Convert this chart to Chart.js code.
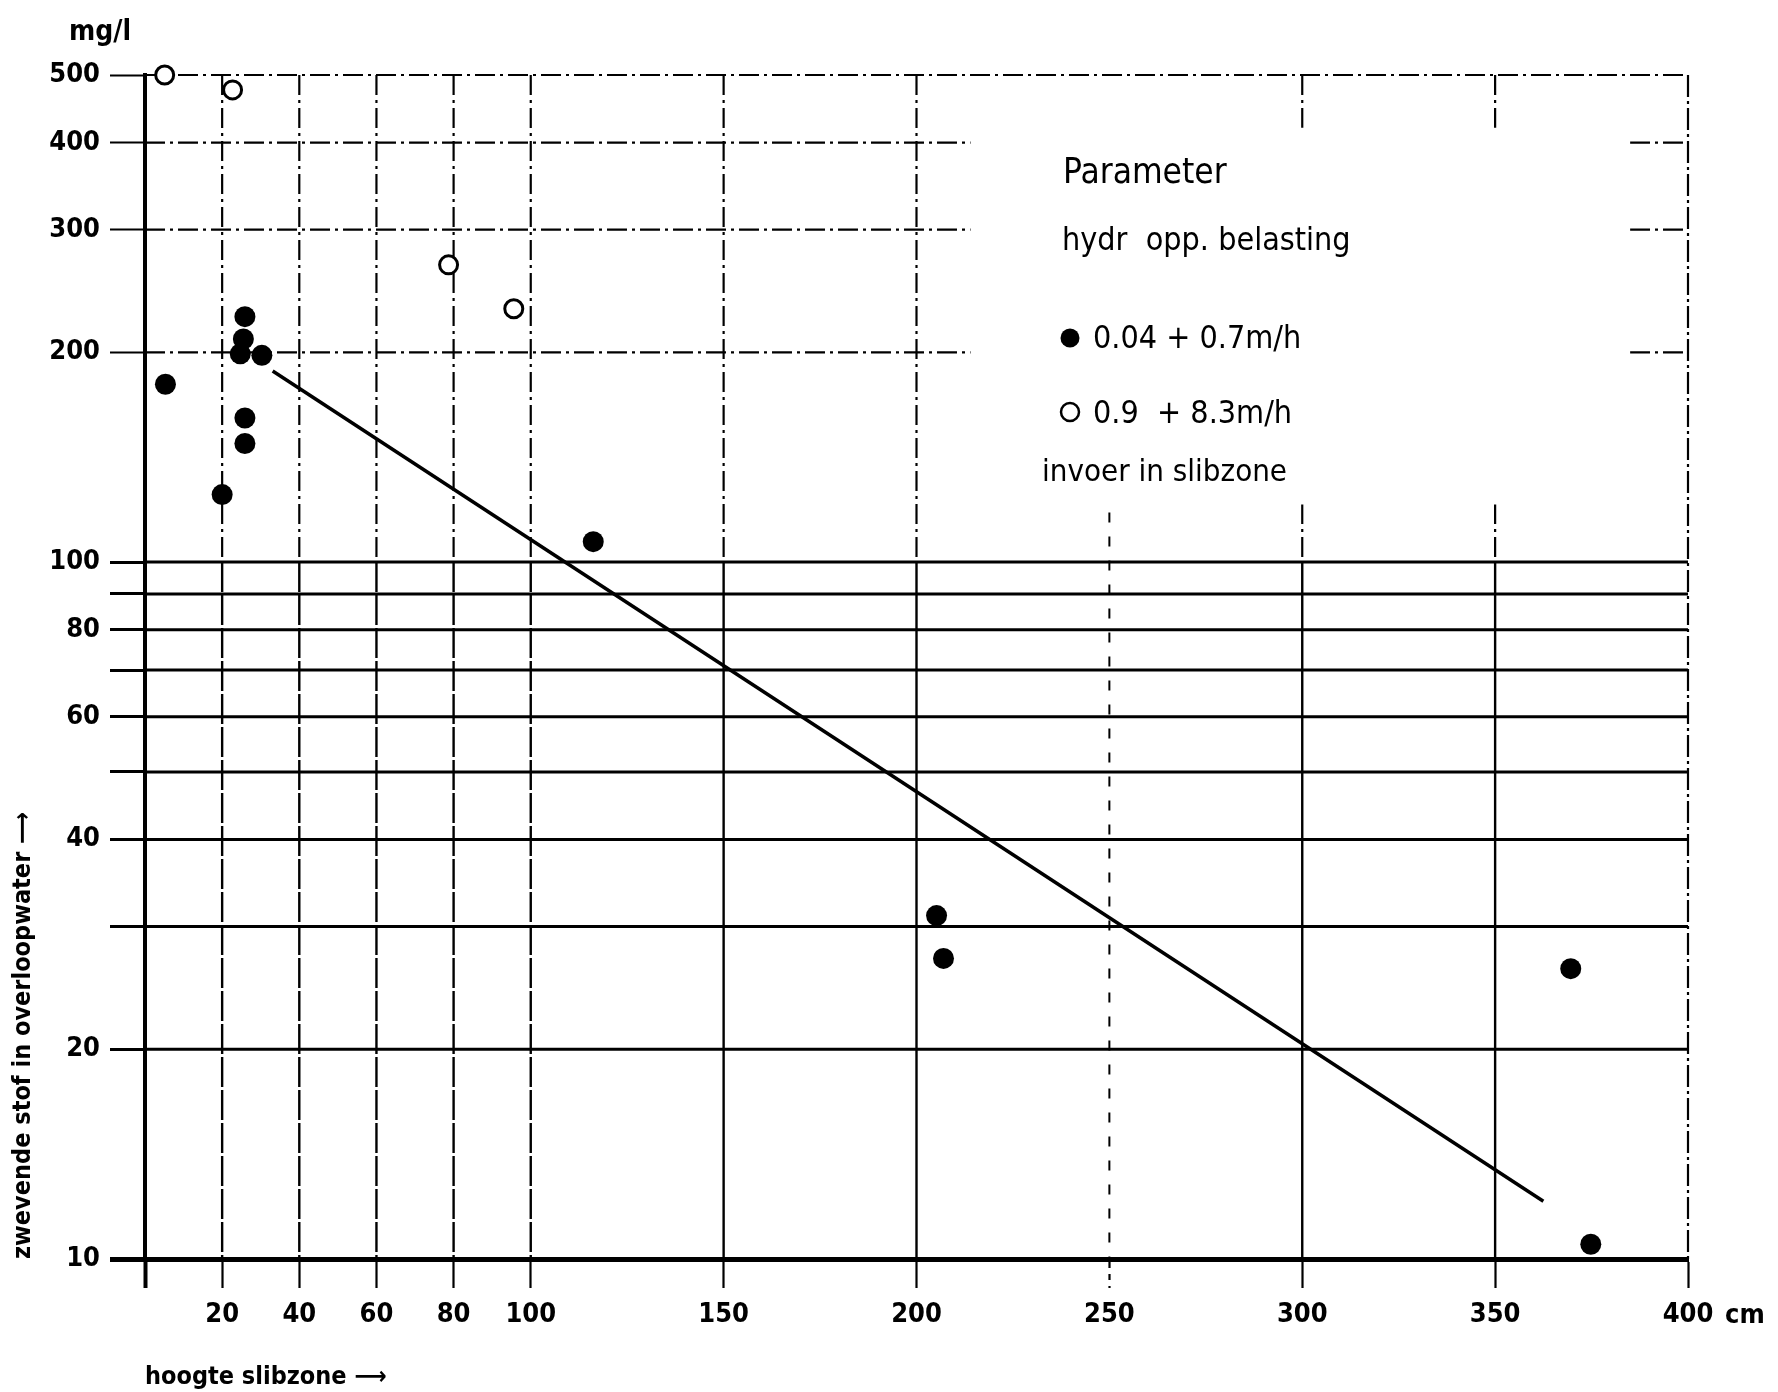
<!DOCTYPE html>
<html>
<head>
<meta charset="utf-8">
<script src="https://cdn.jsdelivr.net/npm/chart.js@4.4.1/dist/chart.umd.min.js"></script>
<style>
  html, body { margin: 0; padding: 0; background: #fff; }
  #wrap { width: 1778px; height: 1392px; }
</style>
</head>
<body>
<div id="wrap"><canvas id="chart"></canvas></div>
<script>
// hoogte slibzone (cm) against zwevende stof in overloopwater (mg/l)
const filledX = [5.3, 20.0, 25.9, 25.5, 24.7, 30.3, 25.9, 25.9, 116.2, 205.2, 207.0, 369.6, 374.8];
const filledY = [180, 125, 225, 209, 199, 198, 161, 148, 107, 31.1, 27.0, 26.1, 10.5];
const openX = [5.1, 22.7, 78.7, 95.6];
const openY = [500, 476, 267, 231];
const trendX = [33.1, 362.5];
const trendY = [188, 12.1];

const xTicks = [0, 20, 40, 60, 80, 100, 150, 200, 250, 300, 350, 400];
const xLabels = ["", "20", "40", "60", "80", "100", "150", "200", "250", "300", "350", "400"];
const yTicks = [10, 20, 30, 40, 50, 60, 70, 80, 90, 100, 200, 300, 400, 500];
const yLabels = ["10", "20", "", "40", "", "60", "", "80", "", "100", "200", "300", "400", "500"];

const legendTitle = "Parameter";
const legendSub = "hydr  opp. belasting";
const legendItems = ["0.04 + 0.7m/h", "0.9  + 8.3m/h"];
const legendFoot = "invoer in slibzone";

const FONT = "'DejaVu Sans Condensed', 'DejaVu Sans', sans-serif";
// blank block behind the legend, in data units
const legendBox = { x0: 214, x1: 385, y0: 121, y1: 420 };

const pts = (xs, ys) => xs.map((x, i) => ({ x, y: ys[i] }));

const paperGrid = {
  id: "paperGrid",
  beforeDatasetsDraw(chart) {
    const { ctx, chartArea: a, scales: { x, y } } = chart;
    const bx0 = x.getPixelForValue(legendBox.x0);
    const bx1 = x.getPixelForValue(legendBox.x1);
    const by0 = y.getPixelForValue(legendBox.y1);
    const by1 = y.getPixelForValue(legendBox.y0);
    const y100 = y.getPixelForValue(100);
    const dashDot = [20, 5, 3, 5];

    ctx.save();
    ctx.beginPath();
    ctx.rect(a.left, a.top - 5, a.width + 5, a.height + 5);
    ctx.rect(bx0, by0, bx1 - bx0, by1 - by0);
    ctx.clip("evenodd");
    ctx.strokeStyle = "#000";
    const seg = (x1, y1, x2, y2, w, dash) => {
      ctx.lineWidth = w;
      ctx.setLineDash(dash);
      ctx.beginPath();
      ctx.moveTo(x1, y1);
      ctx.lineTo(x2, y2);
      ctx.stroke();
    };

    yTicks.forEach((v) => {
      if (v === 10) return;
      const py = y.getPixelForValue(v);
      if (v > 100) seg(a.left, py, a.right, py, 2.2, dashDot);
      else seg(a.left, py, a.right, py, 3, []);
    });

    xTicks.forEach((v) => {
      if (v === 0) return;
      const px = x.getPixelForValue(v);
      if (v === 250) {
        seg(px, by1 + 8, px, a.bottom, 2, [10, 14]);
        return;
      }
      if (v === 400) {
        seg(px, a.top, px, a.bottom, 2.2, [22, 4, 3, 4]);
        return;
      }
      seg(px, a.top, px, y100, 2.2, dashDot);
      seg(px, y100, px, a.bottom, 2.4, v <= 100 ? [30, 3] : []);
    });
    ctx.restore();
  },
  afterDraw(chart) {
    const { ctx, chartArea: a, scales: { x } } = chart;
    ctx.save();
    ctx.fillStyle = "#000";
    ctx.strokeStyle = "#000";
    ctx.textAlign = "left";
    ctx.textBaseline = "alphabetic";

    // unit above the y axis
    ctx.font = `bold 28px ${FONT}`;
    ctx.fillText("mg/l", 69, 40);

    // unit after the last x label
    ctx.font = `bold 27px ${FONT}`;
    ctx.textBaseline = "middle";
    ctx.fillText("cm", x.getPixelForValue(400) + 37, a.bottom + 57);
    ctx.textBaseline = "alphabetic";

    // legend block
    ctx.font = `35px ${FONT}`;
    ctx.fillText(legendTitle, 1063, 183);
    ctx.font = `32px ${FONT}`;
    ctx.fillText(legendSub, 1062, 250);

    ctx.beginPath();
    ctx.arc(1070, 338, 9.5, 0, Math.PI * 2);
    ctx.fill();
    ctx.fillText(legendItems[0], 1093, 348);

    ctx.beginPath();
    ctx.lineWidth = 2.5;
    ctx.arc(1070, 412, 9, 0, Math.PI * 2);
    ctx.stroke();
    ctx.fillText(legendItems[1], 1093, 423);

    ctx.font = `31px ${FONT}`;
    ctx.fillText(legendFoot, 1042, 481);
    ctx.restore();
  },
};

Chart.defaults.font.family = FONT;
Chart.defaults.color = "#000";

new Chart(document.getElementById("chart"), {
  type: "scatter",
  data: {
    datasets: [
      {
        label: "trend",
        data: pts(trendX, trendY),
        showLine: true,
        borderColor: "#000",
        borderWidth: 3.5,
        pointRadius: 0,
        clip: false,
      },
      {
        label: legendItems[0],
        data: pts(filledX, filledY),
        pointRadius: 10.5,
        backgroundColor: "#000",
        borderColor: "#000",
        borderWidth: 0,
        clip: false,
      },
      {
        label: legendItems[1],
        data: pts(openX, openY),
        pointRadius: 9,
        backgroundColor: "#fff",
        borderColor: "#000",
        borderWidth: 3,
        clip: false,
      },
    ],
  },
  options: {
    responsive: true,
    maintainAspectRatio: false,
    animation: false,
    layout: { padding: { left: 0, top: 75, right: 90, bottom: 0 } },
    plugins: {
      legend: { display: false },
      tooltip: { enabled: false },
    },
    scales: {
      x: {
        type: "linear",
        min: 0,
        max: 400,
        afterBuildTicks: (s) => { s.ticks = xTicks.map((v) => ({ value: v })); },
        afterFit: (s) => { s.height = 133; },
        ticks: {
          autoSkip: false,
          maxRotation: 0,
          padding: 11,
          color: "#000",
          font: { size: 27, weight: "bold" },
          callback: (v, i) => xLabels[i] ?? "",
        },
        grid: {
          display: true,
          drawOnChartArea: false,
          drawTicks: true,
          tickLength: 29,
          tickColor: "#000",
          tickWidth: (c) => (c.tick && c.tick.value === 0 ? 4 : 2.2),
          tickBorderDash: (c) => (c.tick && c.tick.value === 250 ? [6, 6] : []),
        },
        border: { display: true, color: "#000", width: 5 },
        title: {
          display: true,
          text: "hoogte slibzone ⟶",
          align: "start",
          color: "#000",
          font: { size: 25, weight: "bold" },
          padding: { top: 0, bottom: 0 },
        },
      },
      y: {
        type: "logarithmic",
        min: 10,
        max: 500,
        afterBuildTicks: (s) => { s.ticks = yTicks.map((v) => ({ value: v })); },
        afterFit: (s) => { s.width = 145; },
        ticks: {
          padding: 10,
          color: "#000",
          font: { size: 27, weight: "bold" },
          callback: (v, i) => yLabels[i] ?? "",
        },
        grid: {
          display: true,
          drawOnChartArea: false,
          drawTicks: true,
          tickLength: 35,
          tickColor: "#000",
          tickWidth: (c) => (c.tick && c.tick.value === 10 ? 5 : (c.tick && c.tick.value > 100 ? 2.2 : 3)),
        },
        border: { display: true, color: "#000", width: 4 },
        title: {
          display: true,
          text: "zwevende stof in overloopwater ⟶",
          align: "start",
          color: "#000",
          font: { size: 25, weight: "bold" },
          padding: { top: 8, bottom: 0 },
        },
      },
    },
  },
  plugins: [paperGrid],
});
</script>
</body>
</html>
